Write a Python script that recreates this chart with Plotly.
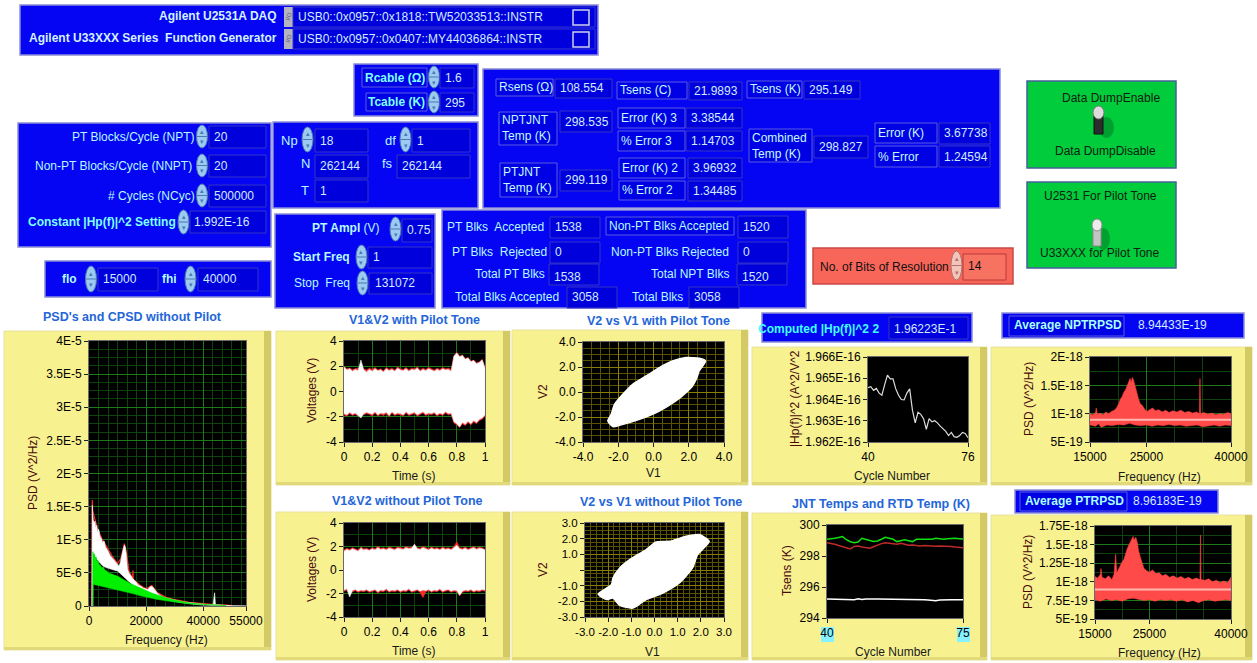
import plotly.graph_objects as go

# ======================= DATA =======================
addr_daq = "USB0::0x0957::0x1818::TW52033513::INSTR"
addr_fg = "USB0::0x0957::0x0407::MY44036864::INSTR"

# PSD's and CPSD without Pilot (V^2/Hz)
psd_v1_hi_f = [1000, 1050, 1150, 1300, 1500, 1800, 2100, 2400, 2700, 3000, 3400, 3800, 4300, 4800, 5300,
               5800, 6300, 6900, 7500, 8100, 8700, 9300, 9900, 10500, 11000, 11500, 12000, 12400, 12700, 13100,
               13500, 14000, 14700, 15400, 16100, 16800, 17500, 18200, 19000, 19800, 20600, 21400, 22000, 22600,
               23200, 24000, 25000, 26000, 27500, 29000, 31000, 33000, 35000, 37000, 39000, 41000, 43500, 44000,
               44300, 46000, 48000, 50000, 55000]
psd_v1_hi = [0, 8.0e-6, 15.2e-6, 14.0e-6, 13.0e-6, 12.6e-6, 12.8e-6, 11.8e-6, 12.2e-6, 11.2e-6, 11.6e-6, 10.6e-6,
             10.2e-6, 9.6e-6, 9.8e-6, 8.9e-6, 8.6e-6, 8.0e-6, 7.6e-6, 7.3e-6, 7.0e-6, 6.6e-6, 6.3e-6, 6.0e-6, 6.6e-6,
             7.9e-6, 8.6e-6, 9.2e-6, 8.9e-6, 7.6e-6, 5.6e-6, 5.0e-6, 4.5e-6, 4.1e-6, 3.8e-6, 3.4e-6, 3.1e-6, 3.0e-6,
             2.7e-6, 2.6e-6, 2.5e-6, 2.9e-6, 3.0e-6, 2.7e-6, 2.3e-6, 1.9e-6, 1.6e-6, 1.35e-6, 1.15e-6, 0.95e-6,
             0.8e-6, 0.62e-6, 0.5e-6, 0.38e-6, 0.3e-6, 0.22e-6, 0.18e-6, 2.0e-6, 0.2e-6, 0.12e-6, 0.08e-6, 0.03e-6, 0]
psd_v1_lo_f = [1000, 1350, 1450, 2000, 3000, 4000, 5000, 6000, 7000, 8000, 9000, 10000, 11000, 12000, 13000,
               14000, 15000, 17000, 19000, 21000, 23000, 25000, 28000, 31000, 34000, 37000, 40000, 44000, 48000, 55000]
psd_v1_lo = [0, 0, 7.8e-6, 7.5e-6, 6.9e-6, 6.4e-6, 6.0e-6, 5.8e-6, 5.6e-6, 5.5e-6, 5.4e-6, 5.3e-6, 5.0e-6, 4.6e-6,
             4.2e-6, 3.7e-6, 3.3e-6, 2.8e-6, 2.3e-6, 1.9e-6, 1.5e-6, 1.2e-6, 0.85e-6, 0.6e-6, 0.4e-6, 0.25e-6,
             0.15e-6, 0.08e-6, 0.03e-6, 0]
psd_v2_f = [1000, 1150, 1300, 2000, 3000, 4500, 6000, 8000, 10000, 11200, 12400, 13200, 14000, 15300, 15400,
            15500, 18000, 20000, 22000, 24000, 27000, 30000, 35000, 40000, 44000, 48000, 50000]
psd_v2 = [0, 16.0e-6, 14.3e-6, 13.2e-6, 11.6e-6, 10.2e-6, 9.0e-6, 7.6e-6, 6.4e-6, 7.2e-6, 9.4e-6, 7.8e-6, 5.3e-6,
          4.1e-6, 5.4e-6, 4.0e-6, 3.1e-6, 2.6e-6, 3.1e-6, 2.0e-6, 1.3e-6, 0.95e-6, 0.55e-6, 0.3e-6, 0.2e-6,
          0.15e-6, 0.05e-6]
cpsd_hi_f = [1300, 1350, 1600, 1900, 2200, 2500, 2800, 3100, 3500, 4000, 4500, 5000, 5600, 6200, 6800, 7500, 8200,
             9000, 9800, 10500, 11300, 12000, 13000, 14000, 15000, 16000, 17000, 18500, 20000, 22000, 24000, 26000,
             28000, 30000, 32000, 34000, 36000, 38000, 40000, 42000, 45000, 48000]
cpsd_hi = [0, 8.2e-6, 7.6e-6, 7.9e-6, 7.2e-6, 7.4e-6, 6.7e-6, 6.9e-6, 6.3e-6, 6.1e-6, 5.8e-6, 5.9e-6, 5.4e-6,
           5.3e-6, 5.0e-6, 4.9e-6, 4.8e-6, 4.7e-6, 4.5e-6, 4.4e-6, 4.2e-6, 4.0e-6, 3.8e-6, 3.5e-6, 3.3e-6, 3.1e-6,
           2.9e-6, 2.6e-6, 2.3e-6, 1.95e-6, 1.65e-6, 1.35e-6, 1.1e-6, 0.9e-6, 0.7e-6, 0.55e-6, 0.42e-6, 0.32e-6,
           0.25e-6, 0.2e-6, 0.15e-6, 0.1e-6]
cpsd_lo_f = [1300, 1350, 2000, 3000, 4000, 5000, 6000, 7000, 8000, 9000, 10000, 11000, 12000, 13000, 14000, 16000,
             18000, 20000, 22000, 24000, 26000, 28000, 30000, 32000, 34000, 36000, 38000, 40000, 42000, 45000, 48000]
cpsd_lo = [0, 3.3e-6, 3.2e-6, 3.1e-6, 3.1e-6, 3.0e-6, 2.9e-6, 2.8e-6, 2.7e-6, 2.6e-6, 2.5e-6, 2.4e-6, 2.3e-6,
           2.15e-6, 2.0e-6, 1.8e-6, 1.55e-6, 1.35e-6, 1.15e-6, 1.0e-6, 0.85e-6, 0.7e-6, 0.58e-6, 0.47e-6,
           0.38e-6, 0.3e-6, 0.22e-6, 0.16e-6, 0.12e-6, 0.08e-6, 0.06e-6]

# V1&V2 time traces (envelopes, V)
time_s = [0.00, 0.02, 0.04, 0.06, 0.08, 0.10, 0.12, 0.14, 0.16, 0.18, 0.20, 0.22, 0.24, 0.26, 0.28, 0.30, 0.32,
          0.34, 0.36, 0.38, 0.40, 0.42, 0.44, 0.46, 0.48, 0.50, 0.52, 0.54, 0.56, 0.58, 0.60, 0.62, 0.64, 0.66,
          0.68, 0.70, 0.72, 0.74, 0.76, 0.78, 0.80, 0.82, 0.84, 0.86, 0.88, 0.90, 0.92, 0.94, 0.96, 0.98, 1.00]
pt_v1_hi = [1.95, 1.70, 1.80, 1.60, 1.75, 1.65, 2.50, 1.70, 1.55, 1.75, 1.60, 1.80, 1.65, 1.70, 1.55, 1.80, 1.65,
            1.75, 1.60, 1.85, 1.70, 1.65, 1.80, 1.60, 1.75, 1.70, 1.85, 1.60, 1.75, 1.65, 1.80, 1.70, 1.60, 1.75,
            1.65, 1.80, 1.70, 1.75, 1.60, 2.80, 3.05, 2.75, 2.85, 2.55, 2.65, 2.35, 2.45, 2.20, 2.30, 2.50, 1.85]
pt_v1_lo = [-1.75, -1.85, -1.65, -1.80, -1.70, -1.90, -2.10, -1.75, -1.65, -1.70, -1.80, -1.60, -1.85, -1.70,
            -1.75, -1.65, -1.90, -1.60, -1.80, -1.70, -1.75, -1.85, -1.60, -1.80, -1.70, -1.65, -1.85, -1.75,
            -1.60, -1.80, -1.70, -1.75, -1.65, -1.85, -1.70, -1.80, -1.60, -1.75, -1.70, -2.40, -2.55, -2.80,
            -2.45, -2.60, -2.35, -2.55, -2.30, -2.45, -2.20, -2.10, -1.85]
pt_v2_hi = [2.00, 1.80, 1.85, 1.75, 1.80, 1.85, 1.90, 1.80, 1.70, 1.85, 1.75, 1.90, 1.70, 1.80, 1.65, 1.90, 1.75,
            1.85, 1.70, 1.95, 1.80, 1.75, 1.90, 1.70, 1.85, 1.80, 1.95, 1.70, 1.85, 1.75, 1.90, 1.80, 1.70, 1.85,
            1.75, 1.90, 1.80, 1.85, 1.75, 2.85, 3.10, 2.80, 2.90, 2.60, 2.70, 2.40, 2.50, 2.25, 2.35, 2.55, 1.90]
pt_v2_lo = [-1.85, -1.95, -1.75, -1.90, -1.80, -1.95, -1.80, -1.85, -1.75, -1.80, -1.95, -1.70, -1.95, -1.80,
            -1.90, -1.75, -2.00, -1.70, -1.90, -1.80, -1.85, -1.95, -1.70, -1.90, -1.80, -1.75, -1.95, -1.85,
            -1.70, -1.90, -1.80, -1.85, -1.75, -1.95, -1.80, -1.90, -1.70, -1.85, -1.80, -2.50, -2.65, -2.85,
            -2.55, -2.70, -2.45, -2.65, -2.40, -2.55, -2.30, -2.20, -1.95]
np_v1_hi = [1.60, 1.75, 1.65, 1.80, 1.70, 1.60, 1.85, 1.70, 1.75, 1.65, 1.80, 1.70, 1.90, 1.75, 1.80, 1.70, 1.85,
            1.75, 1.70, 1.85, 1.80, 1.75, 1.90, 1.80, 1.85, 2.20, 1.80, 1.75, 1.90, 1.80, 1.70, 1.85, 1.75, 1.80,
            1.70, 1.85, 1.75, 1.80, 1.70, 1.90, 2.10, 1.80, 1.75, 1.85, 1.70, 1.80, 1.90, 1.75, 1.85, 1.80, 1.70]
np_v1_lo = [-1.70, -1.60, -2.30, -1.75, -1.65, -1.80, -1.70, -1.75, -1.65, -1.80, -1.70, -1.65, -1.85, -1.70,
            -1.75, -1.60, -1.80, -1.70, -1.75, -1.65, -1.80, -1.70, -1.75, -1.60, -1.80, -1.70, -1.65, -1.80,
            -1.70, -1.75, -1.65, -1.80, -1.70, -1.75, -1.60, -1.80, -1.70, -1.65, -1.80, -1.70, -1.75, -2.15,
            -1.80, -1.70, -1.75, -1.65, -1.80, -1.70, -1.75, -1.65, -1.70]
np_v2_hi = [1.70, 1.85, 1.75, 1.90, 1.80, 1.70, 1.95, 1.80, 1.85, 1.75, 1.90, 1.80, 2.00, 1.85, 1.90, 1.80, 1.95,
            1.85, 1.80, 1.95, 1.90, 1.85, 2.00, 1.90, 1.95, 2.10, 1.90, 1.85, 2.00, 1.90, 1.80, 1.95, 1.85, 1.90,
            1.80, 1.95, 1.85, 1.90, 1.80, 2.00, 2.40, 1.90, 1.85, 1.95, 1.80, 1.90, 2.00, 1.85, 1.95, 1.90, 1.75]
np_v2_lo = [-1.80, -1.70, -2.00, -1.85, -1.75, -1.90, -1.80, -1.85, -1.75, -1.90, -1.80, -1.75, -1.95, -1.80,
            -1.85, -1.70, -1.90, -1.80, -1.85, -1.75, -1.90, -1.80, -1.85, -1.70, -1.90, -1.80, -1.75, -1.90,
            -2.35, -1.85, -1.75, -1.90, -1.80, -1.85, -1.70, -1.90, -1.80, -1.75, -1.90, -1.80, -1.85, -2.20,
            -1.90, -1.80, -1.85, -1.75, -1.90, -1.80, -1.85, -1.75, -1.80]

# V2 vs V1 scatter outlines (V)
xy_pt_v1 = [2.96, 2.60, 1.84, 1.08, 0.33, -0.42, -1.18, -1.74, -2.21, -2.40, -2.59, -2.31, -1.93, -0.80, 0.33,
            1.27, 1.84, 2.21, 2.45, 2.59, 2.96]
xy_pt_v2 = [2.48, 2.70, 2.75, 2.48, 1.95, 1.28, 0.61, -0.19, -0.99, -1.79, -2.32, -2.77, -2.67, -2.19, -1.52,
            -0.72, -0.05, 0.48, 1.10, 1.68, 2.48]
xy_np_v1 = [2.36, 1.93, 1.36, 0.64, 0.07, -0.36, -1.07, -1.50, -1.79, -1.86, -2.43, -2.07, -1.79, -1.50, -0.93,
            -0.36, 0.36, 1.07, 1.64, 1.86, 2.36]
xy_np_v2 = [1.83, 2.26, 2.15, 1.83, 1.79, 1.30, 0.66, 0.13, -0.51, -0.94, -1.53, -1.89, -1.79, -2.26, -2.43,
            -1.89, -1.47, -0.83, 0.13, 0.98, 1.83]

# Computed |Hp(f)|^2 per cycle
hp_cycle = [40, 41, 42, 43, 44, 45, 46, 47, 48, 49, 50, 51, 52, 53, 54, 55, 56, 57, 58, 59, 60, 61, 62, 63, 64,
            65, 66, 67, 68, 69, 70, 71, 72, 73, 74, 75, 76]
hp_value = [1.96456e-16, 1.96460e-16, 1.96443e-16, 1.96452e-16, 1.96430e-16, 1.96420e-16, 1.96470e-16,
            1.96515e-16, 1.96497e-16, 1.96497e-16, 1.96450e-16, 1.96420e-16, 1.96400e-16, 1.96398e-16,
            1.96430e-16, 1.96450e-16, 1.96350e-16, 1.96290e-16, 1.96340e-16, 1.96330e-16, 1.96310e-16,
            1.96260e-16, 1.96310e-16, 1.96295e-16, 1.96300e-16, 1.96290e-16, 1.96275e-16, 1.96262e-16,
            1.96250e-16, 1.96230e-16, 1.96245e-16, 1.96225e-16, 1.96222e-16, 1.96230e-16, 1.96245e-16,
            1.96240e-16, 1.96220e-16]

# JNT temps and RTD temp (K)
jnt_cycle = [40, 41, 42, 43, 44, 45, 46, 47, 48, 49, 50, 51, 52, 53, 54, 55, 56, 57, 58, 59, 60, 61, 62, 63, 64,
             65, 66, 67, 68, 69, 70, 71, 72, 73, 74, 75]
ptjnt_temp = [299.08, 299.10, 299.14, 299.20, 299.25, 299.05, 298.92, 298.86, 298.90, 299.14, 299.05, 299.00,
              298.93, 298.97, 299.08, 299.21, 299.15, 299.08, 298.93, 299.00, 299.04, 298.99, 298.93, 299.08,
              299.08, 299.06, 299.04, 299.08, 299.14, 299.10, 299.08, 299.12, 299.14, 299.14, 299.12, 299.10]
nptjnt_temp = [298.86, 298.82, 298.76, 298.68, 298.61, 298.52, 298.46, 298.62, 298.65, 298.58, 298.52, 298.50,
               298.60, 298.71, 298.80, 298.86, 298.82, 298.76, 298.76, 298.82, 298.75, 298.69, 298.71, 298.68,
               298.65, 298.67, 298.66, 298.61, 298.63, 298.65, 298.65, 298.63, 298.61, 298.58, 298.54, 298.54]
rtd_temp = [295.22, 295.22, 295.21, 295.22, 295.20, 295.21, 295.22, 295.18, 295.24, 295.20, 295.22, 295.24,
            295.22, 295.22, 295.22, 295.21, 295.21, 295.20, 295.18, 295.18, 295.18, 295.18, 295.18, 295.18,
            295.18, 295.18, 295.16, 295.14, 295.11, 295.16, 295.18, 295.18, 295.18, 295.18, 295.18, 295.18]

# Average NPT / PT ratio PSDs (V^2/Hz)
npt_hi_f = [15000, 15500, 16000, 16100, 16300, 16800, 17300, 17800, 18300, 18800, 19300, 19700, 20100, 20400,
            20700, 21000, 21300, 21600, 21900, 22100, 22300, 22500, 22700, 22900, 23100, 23300, 23600, 23900,
            24300, 24700, 25100, 25600, 26100, 26600, 27200, 27800, 28400, 29000, 29700, 30400, 31100, 31800,
            32500, 33200, 33900, 34400, 34500, 34600, 35200, 35900, 36600, 37300, 38000, 38700, 39400, 40000]
npt_hi = [1.00e-18, 0.98e-18, 1.02e-18, 1.10e-18, 0.99e-18, 1.01e-18, 0.98e-18, 1.03e-18, 1.00e-18, 1.04e-18,
          1.06e-18, 1.10e-18, 1.18e-18, 1.26e-18, 1.30e-18, 1.38e-18, 1.42e-18, 1.50e-18, 1.56e-18, 1.62e-18,
          1.55e-18, 1.64e-18, 1.60e-18, 1.52e-18, 1.44e-18, 1.38e-18, 1.26e-18, 1.18e-18, 1.14e-18, 1.08e-18,
          1.04e-18, 1.07e-18, 1.10e-18, 1.05e-18, 1.07e-18, 1.03e-18, 1.06e-18, 1.02e-18, 1.05e-18, 1.03e-18,
          1.06e-18, 1.02e-18, 1.04e-18, 1.01e-18, 1.03e-18, 1.00e-18, 1.62e-18, 1.00e-18, 1.02e-18, 0.99e-18,
          1.01e-18, 0.98e-18, 1.00e-18, 0.99e-18, 1.02e-18, 1.00e-18]
npt_lo_f = [15000, 16000, 16500, 17000, 18000, 19000, 20000, 21000, 22000, 23000, 24000, 25000, 26000, 27000,
            28000, 29000, 30000, 31000, 32000, 33000, 34000, 35000, 36000, 37000, 38000, 39000, 40000]
npt_lo = [0.80e-18, 0.78e-18, 0.82e-18, 0.76e-18, 0.80e-18, 0.79e-18, 0.81e-18, 0.80e-18, 0.83e-18, 0.80e-18,
          0.79e-18, 0.80e-18, 0.78e-18, 0.80e-18, 0.79e-18, 0.81e-18, 0.79e-18, 0.80e-18, 0.78e-18, 0.79e-18,
          0.80e-18, 0.77e-18, 0.79e-18, 0.80e-18, 0.78e-18, 0.80e-18, 0.79e-18]
npt_avg = 8.94433e-19
pt_hi_f = [15000, 15500, 16000, 16100, 16300, 16900, 17500, 18100, 18500, 18800, 19000, 19500, 20000, 20300,
           20600, 20900, 21200, 21500, 21800, 22000, 22200, 22500, 22800, 23000, 23300, 23700, 24000, 24500,
           25000, 25600, 26200, 26800, 27400, 28000, 28700, 29400, 30100, 30800, 31500, 32200, 32900, 33600,
           34300, 34400, 34500, 35200, 35900, 36600, 37300, 38000, 38700, 39400, 40000]
pt_hi = [1.07e-18, 1.05e-18, 1.10e-18, 1.18e-18, 1.06e-18, 1.04e-18, 1.08e-18, 1.03e-18, 1.10e-18, 1.37e-18,
         1.12e-18, 1.20e-18, 1.27e-18, 1.30e-18, 1.38e-18, 1.44e-18, 1.49e-18, 1.54e-18, 1.58e-18, 1.61e-18,
         1.56e-18, 1.60e-18, 1.52e-18, 1.42e-18, 1.34e-18, 1.24e-18, 1.18e-18, 1.15e-18, 1.13e-18, 1.16e-18,
         1.11e-18, 1.12e-18, 1.08e-18, 1.10e-18, 1.06e-18, 1.08e-18, 1.05e-18, 1.07e-18, 1.04e-18, 1.06e-18,
         1.03e-18, 1.05e-18, 1.03e-18, 1.63e-18, 1.03e-18, 1.02e-18, 1.04e-18, 1.00e-18, 1.02e-18, 0.99e-18,
         1.01e-18, 0.99e-18, 1.06e-18]
pt_lo_f = [15000, 16000, 17000, 18000, 19000, 20000, 21000, 22000, 23000, 24000, 25000, 26000, 27000, 28000,
           29000, 30000, 31000, 32000, 33000, 34000, 35000, 36000, 37000, 38000, 39000, 40000]
pt_lo = [0.76e-18, 0.74e-18, 0.77e-18, 0.75e-18, 0.76e-18, 0.74e-18, 0.77e-18, 0.78e-18, 0.76e-18, 0.75e-18,
         0.76e-18, 0.74e-18, 0.76e-18, 0.75e-18, 0.76e-18, 0.74e-18, 0.76e-18, 0.73e-18, 0.75e-18, 0.72e-18,
         0.75e-18, 0.76e-18, 0.74e-18, 0.75e-18, 0.76e-18, 0.75e-18]
pt_avg = 8.96183e-19
hp_computed = "1.96223E-1"

# tick labels
psd_xticks = [0, 20000, 40000, 55000]
psd_xlabels = ["0", "20000", "40000", "55000"]
psd_yticks = [0, 5e-6, 1e-5, 1.5e-5, 2e-5, 2.5e-5, 3e-5, 3.5e-5, 4e-5]
psd_ylabels = ["0", "5E-6", "1E-5", "1.5E-5", "2E-5", "2.5E-5", "3E-5", "3.5E-5", "4E-5"]
t_ticks = [0, 0.2, 0.4, 0.6, 0.8, 1.0]
t_labels = ["0", "0.2", "0.4", "0.6", "0.8", "1"]
v_ticks = [-4, -2, 0, 2, 4]
v_labels = ["-4", "-2", "0", "2", "4"]
xy4_labels = ["-4.0", "-2.0", "0.0", "2.0", "4.0"]
xy3_ticks = [-3, -2, -1, 0, 1, 2, 3]
xy3_xlabels = ["-3.0", "-2.0", "-1.0", "0.0", "1.0", "2.0", "3.0"]
xy3_ylabels = ["-3.0", "-2.0", "-1.0", "", "1.0", "2.0", "3.0"]
hp_yticks = [1.962e-16, 1.963e-16, 1.964e-16, 1.965e-16, 1.966e-16]
hp_ylabels = ["1.962E-16", "1.963E-16", "1.964E-16", "1.965E-16", "1.966E-16"]
jnt_yticks = [294, 296, 298, 300]
rpsd_xticks = [15000, 25000, 40000]
npt_yticks = [5e-19, 1e-18, 1.5e-18, 2e-18]
npt_ylabels = ["5E-19", "1E-18", "1.5E-18", "2E-18"]
pt_yticks = [5e-19, 7.5e-19, 1e-18, 1.25e-18, 1.5e-18, 1.75e-18]
pt_ylabels = ["5E-19", "7.5E-19", "1E-18", "1.25E-18", "1.5E-18", "1.75E-18"]

# ======================= STYLE / HELPERS =======================
W, H = 1257, 663
FONT = "Liberation Sans, Arial, sans-serif"
BLUE = "#0505f4"
BLUE_EDGE = "#8c8cd8"
BOX = "#0000dc"
BOX_EDGE = "#3434c4"
LBL = "#b4faff"
VAL = "#d2ecff"
YEL = "#f7f190"
YEL_DARK = "#d3ca66"
TITLE_C = "#2466d8"
AXT = "#4a0a0a"
GREEN_PANEL = "#00cc3c"
GRID_G = ("#1c7a1c", "#0c440c")
GRID_Y = ("#8a7e00", "#5a5200")


def X(px):
    return px / W


def Y(py):
    return 1 - py / H


shapes, annotations = [], []


def rect(x0, y0, x1, y1, fill, edge=None, lw=1.0, kind="rect"):
    shapes.append(dict(type=kind, xref="paper", yref="paper", x0=X(x0), x1=X(x1), y0=Y(y1), y1=Y(y0),
                       fillcolor=fill, line=dict(color=edge if edge else fill, width=lw if edge else 0),
                       layer="below"))


def hline(x0, x1, y, color, lw=1.0):
    shapes.append(dict(type="line", xref="paper", yref="paper", x0=X(x0), x1=X(x1), y0=Y(y), y1=Y(y),
                       line=dict(color=color, width=lw), layer="below"))


def text(x, y, s, anchor="left", color=LBL, size=12, angle=0):
    annotations.append(dict(xref="paper", yref="paper", x=X(x), y=Y(y), text=s, showarrow=False,
                            xanchor=anchor, yanchor="middle", textangle=angle, align="left",
                            borderpad=0, font=dict(family=FONT, size=size, color=color)))


def spinner(x, y0, y1, fill="#9ccaf0", edge="#4a7ab4"):
    rect(x - 5.5, y0, x + 5.5, y1, fill, edge, 1, kind="circle")
    hline(x - 5, x + 5, (y0 + y1) / 2, edge)
    text(x, y0 + (y1 - y0) * 0.27, "▴", "center", edge, 7)
    text(x, y0 + (y1 - y0) * 0.73, "▾", "center", edge, 7)


def valbox(x0, y0, x1, y1):
    rect(x0, y0, x1, y1, BOX, BOX_EDGE, 1)


def lblbox(x0, y0, x1, y1):
    rect(x0, y0, x1, y1, "#0000e4", "#5a5ae0", 1)


def panel(x0, y0, x1, y1):
    rect(x0, y0, x1, y1, BLUE, BLUE_EDGE, 1.5)


def yellow(x0, y0, x1, y1):
    rect(x0, y0, x1, y1, YEL, "#e8e2a0", 1)
    rect(x1 - 7, y0, x1, y1, YEL_DARK)
    rect(x0, y1 - 3, x1, y1, "#e2da7a")


# ======================= FRONT PANEL CONTROLS =======================
panel(20, 5, 598, 55)
text(278, 16, "<b>Agilent U2531A DAQ</b>", "right", "#d4f2ff", 12)
text(278, 38, "<b>Agilent U33XXX Series\u00a0 Function Generator</b>", "right", "#d4f2ff", 12)
for (ya, yb, yc, addr) in [(7, 27, 17, addr_daq), (29, 49, 39, addr_fg)]:
    rect(284, ya, 293, yb, "#b4b4c0")
    text(288.5, yc, "I/O", "center", "#505070", 6, -70)
    valbox(293, ya, 595, yb)
    text(297, yc, addr, "left", VAL, 12)
    rect(573, ya + 3, 589, yb - 2, BOX, "#d0d0ec", 1.5)

panel(354, 64, 478, 116)
lblbox(362, 68, 427, 87)
text(394.5, 77.5, "<b>Rcable (Ω)</b>", "center", "#7effff", 12)
lblbox(366, 93, 427, 111)
text(396.5, 102, "<b>Tcable (K)</b>", "center", "#7effff", 12)
spinner(434, 66, 88)
spinner(434, 91, 113)
valbox(440, 68, 474, 88)
text(444, 78, "1.6", "left", VAL, 12)
valbox(440, 93, 474, 112)
text(444, 103, "295", "left", VAL, 12)

panel(483, 69, 1000, 208)
items = [
    ((496, 79, 553, 96), "Rsens (Ω)", (555, 79, 612, 98), "108.554"),
    ((617, 82, 687, 99), "Tsens (C)", (689, 82, 742, 100), "21.9893"),
    ((747, 81, 802, 98), "Tsens (K)", (804, 81, 860, 99), "295.149"),
    ((499, 112, 557, 145), "NPTJNT<br>Temp (K)", (560, 111, 612, 132), "298.535"),
    ((618, 108, 685, 128), "Error (K) 3", (686, 108, 742, 128), "3.38544"),
    ((618, 131, 685, 151), "% Error 3", (686, 131, 742, 151), "1.14703"),
    ((500, 163, 557, 197), "PTJNT<br>Temp (K)", (560, 170, 612, 191), "299.119"),
    ((619, 158, 685, 178), "Error (K) 2", (688, 158, 742, 178), "3.96932"),
    ((619, 181, 685, 200), "% Error 2", (688, 181, 742, 201), "1.34485"),
    ((749, 129, 812, 162), "Combined<br>Temp (K)", (814, 136, 868, 158), "298.827"),
    ((875, 123, 937, 143), "Error (K)", (939, 123, 990, 144), "3.67738"),
    ((875, 146, 937, 167), "% Error", (939, 146, 990, 167), "1.24594"),
]
for (lb, lt, vb, vt) in items:
    lblbox(*lb)
    text(lb[0] + 2, (lb[1] + lb[3]) / 2, lt, "left", "#c4fbff", 12)
    valbox(*vb)
    text(vb[0] + 4, (vb[1] + vb[3]) / 2, vt, "left", VAL, 12)

panel(18, 123, 271, 247)
rows = [(137, "PT Blocks/Cycle (NPT)", "20", 195), (166, "Non-PT Blocks/Cycle (NNPT)", "20", 193),
        (196, "# Cycles (NCyc)", "500000", 196)]
for (yy, lt, vt, xr) in rows:
    text(xr, yy, lt, "right", LBL, 12)
    spinner(202, yy - 12, yy + 11)
    valbox(209, yy - 11, 266, yy + 11)
    text(213, yy, vt, "left", VAL, 12)
text(177, 222, "<b>Constant |Hp(f)|^2 Setting</b>", "right", "#7effff", 12)
spinner(183.5, 210, 234)
valbox(190, 211, 266, 233)
text(193, 222, "1.992E-16", "left", VAL, 12)

panel(273, 122, 478, 208)
text(280, 140, "Np", "left", LBL, 13)
spinner(307.5, 127, 152)
valbox(315, 129, 368, 152)
text(319, 141, "18", "left", VAL, 12)
text(384, 140, "df", "left", LBL, 13)
spinner(405.5, 127, 152)
valbox(412, 129, 470, 152)
text(416, 141, "1", "left", VAL, 12)
text(311, 163, "N", "right", LBL, 13)
valbox(315, 155, 368, 178)
text(319, 166, "262144", "left", VAL, 12)
text(381, 163, "fs", "left", LBL, 13)
valbox(397, 155, 470, 178)
text(401, 166, "262144", "left", VAL, 12)
text(310, 190, "T", "right", LBL, 13)
valbox(315, 180, 368, 202)
text(319, 191, "1", "left", VAL, 12)

panel(275, 214, 435, 308)
text(311, 228, "<b>PT Ampl</b> (V)", "left", LBL, 12)
spinner(395.5, 217, 241)
valbox(402, 219, 432, 242)
text(406, 230, "0.75", "left", VAL, 12)
text(292, 257, "<b>Start Freq</b>", "left", LBL, 12)
spinner(361.5, 245, 269)
valbox(368, 247, 432, 268)
text(372, 257, "1", "left", VAL, 12)
text(293, 283, "Stop\u00a0 Freq", "left", LBL, 12)
spinner(362.5, 271, 295)
valbox(369, 273, 432, 294)
text(374, 283, "131072", "left", VAL, 12)

panel(45, 261, 271, 297)
text(61, 279, "<b>flo</b>", "left", LBL, 12)
spinner(91, 266, 292)
valbox(98, 268, 158, 291)
text(102, 279, "15000", "left", VAL, 12)
text(161, 279, "<b>fhi</b>", "left", LBL, 12)
spinner(190.5, 266, 292)
valbox(198, 268, 258, 291)
text(202, 279, "40000", "left", VAL, 12)

panel(442, 210, 806, 308)
counters = [(446, 227, "PT Blks\u00a0 Accepted", 550, "1538", 0), (451, 252, "PT Blks\u00a0 Rejected", 550, "0", 0),
            (474, 274, "Total PT Blks", 549, "1538", 3), (454, 297, "Total Blks Accepted", 567, "3058", 0),
            (610, 252, "Non-PT Blks Rejected", 738, "0", 0), (650, 274, "Total NPT Blks", 737, "1520", 3),
            (631, 297, "Total Blks", 689, "3058", 0)]
for (lx, yy, lt, vx, vt, dy) in counters:
    text(lx, yy, lt, "left", LBL, 12)
    valbox(vx, yy - 10, vx + 50, yy + 11)
    text(vx + 4, yy + dy, vt, "left", VAL, 12)
lblbox(606, 217, 734, 235)
text(608, 226, "Non-PT Blks Accepted", "left", LBL, 12)
valbox(738, 216, 788, 238)
text(742, 227, "1520", "left", VAL, 12)

rect(813, 248, 1013, 284, "#f8665a", "#c84a48", 1.5)
text(819, 267, "No. of Bits of Resolution", "left", "#101010", 12)
spinner(956.5, 251, 280, "#f3c4b8", "#b07070")
rect(963, 254, 1006, 280, "#f87262", "#b83a36", 1)
text(967, 266, "14", "left", "#101010", 12)

rect(1027, 81, 1176, 168, GREEN_PANEL, "#46609a", 1.5)
text(1111, 98, "Data DumpEnable", "center", "#102010", 12)
text(1105, 151, "Data DumpDisable", "center", "#102010", 12)
rect(1099, 117, 1114, 138, "#00a030", kind="circle")
rect(1094, 112, 1103, 134, "#2c2c2c", "#101010", 1)
rect(1093, 106, 1104, 119, "#dcdcdc", "#7a7a7a", 1, kind="circle")

rect(1027, 182, 1176, 268, GREEN_PANEL, "#46609a", 1.5)
text(1100, 196, "U2531 For Pilot Tone", "center", "#102010", 12)
text(1100, 253, "U33XXX for Pilot Tone", "center", "#102010", 12)
rect(1097, 228, 1110, 250, "#00a030", kind="circle")
rect(1093, 225, 1101, 246, "#c4c4c4", "#8a8a8a", 1)
rect(1092, 219, 1102, 231, "#ececec", "#8a8a8a", 1, kind="circle")

rect(762, 313, 972, 342, BLUE, BLUE_EDGE, 1.5)
valbox(889, 317, 968, 339)
text(757, 329, "<b>Computed |Hp(f)|^2 2</b>", "left", "#40ffff", 12)
text(893, 329, hp_computed, "left", VAL, 12)

rect(1002, 313, 1244, 338, BLUE, BLUE_EDGE, 1.5)
lblbox(1009, 316, 1124, 336)
text(1013, 325, "<b>Average NPTRPSD</b>", "left", "#a8ffff", 12)
text(1137, 325, f"{npt_avg:.5E}", "left", VAL, 12)

rect(1015, 490, 1218, 513, BLUE, BLUE_EDGE, 1.5)
lblbox(1020, 492, 1127, 511)
text(1024, 501, "<b>Average PTRPSD</b>", "left", "#a8ffff", 12)
text(1132, 501, f"{pt_avg:.5E}", "left", VAL, 12)

# ======================= GRAPH PANELS =======================
yellow(4, 331, 271, 650)
yellow(276, 331, 510, 485)
yellow(512, 330, 748, 485)
yellow(752, 347, 987, 485)
yellow(991, 347, 1252, 485)
yellow(276, 512, 510, 660)
yellow(512, 512, 748, 660)
yellow(752, 513, 987, 660)
yellow(991, 515, 1252, 660)
rect(821, 627, 834, 642, "#86f2ff")
rect(957, 627, 970, 642, "#86f2ff")

titles = [(132, 317, "PSD's and CPSD without Pilot"), (414, 320, "V1&V2 with Pilot Tone"),
          (658, 321, "V2 vs V1 with Pilot Tone"), (407, 501, "V1&V2 without Pilot Tone"),
          (661, 502, "V2 vs V1 without Pilot Tone"), (881, 504, "JNT Temps and RTD Temp (K)")]
for (tx, ty, tt) in titles:
    text(tx, ty, f"<b>{tt}</b>", "center", TITLE_C, 12.5)

axis_titles = [
    (33, 473, "PSD (V^2/Hz)", -90), (166, 640, "Frequency (Hz)", 0),
    (312, 391, "Voltages (V)", -90), (414, 476, "Time (s)", 0),
    (312, 570, "Voltages (V)", -90), (414, 651, "Time (s)", 0),
    (543, 392, "V2", -90), (653, 473, "V1", 0),
    (543, 570, "V2", -90), (652, 652, "V1", 0),
    (795, 399, "|Hp(f)|^2 (A^2/V^2", -90), (892, 476, "Cycle Number", 0),
    (787, 571, "Tsens (K)", -90), (893, 652, "Cycle Number", 0),
    (1029, 399, "PSD (V^2/Hz)", -90), (1159, 477, "Frequency (Hz)", 0),
    (1028, 572, "PSD (V^2/Hz)", -90), (1159, 653, "Frequency (Hz)", 0),
]
for (ax_, ay_, at_, ang) in axis_titles:
    text(ax_, ay_, at_, "center", AXT if ang else "#1a1a1a", 12, ang)

# ======================= AXES =======================
layout_axes = {}


def add_axes(i, pxx, pxy, xr, yr, xtv, xtt, ytv, ytt, grid=None, xminor=None, yminor=None, fs=12):
    xa = "xaxis" if i == 1 else f"xaxis{i}"
    ya = "yaxis" if i == 1 else f"yaxis{i}"
    xs = "x" if i == 1 else f"x{i}"
    ys = "y" if i == 1 else f"y{i}"
    rect(pxx[0], pxy[0], pxx[1], pxy[1], "#000000")  # black plot area
    common = dict(showline=True, mirror=True, linecolor="#6a6a6a", linewidth=1, zeroline=False,
                  ticks="outside", ticklen=4, tickcolor="#202020", tickwidth=1, tickangle=0,
                  automargin=False, tickfont=dict(family=FONT, size=fs, color="black"),
                  fixedrange=True, tickmode="array", layer="above traces")
    xd = dict(domain=[X(pxx[0]), X(pxx[1])], range=xr, anchor=ys, tickvals=xtv, ticktext=xtt, **common)
    yd = dict(domain=[Y(pxy[1]), Y(pxy[0])], range=yr, anchor=xs, tickvals=ytv, ticktext=ytt, **common)
    for d, mn in ((xd, xminor), (yd, yminor)):
        if grid:
            d.update(showgrid=True, gridcolor=grid[0], gridwidth=1)
            if mn:
                d["minor"] = dict(tickmode="linear", tick0=mn[0], dtick=mn[1], showgrid=True,
                                  gridcolor=grid[1], gridwidth=1, ticks="")
        else:
            d.update(showgrid=False)
    layout_axes[xa] = xd
    layout_axes[ya] = yd
    return xs, ys


a1 = add_axes(1, (89, 246), (341, 606), [0, 55000], [0, 4e-5], psd_xticks, psd_xlabels, psd_yticks,
              psd_ylabels, GRID_G, (0, 10000 / 3), (0, 1.25e-6))
a2 = add_axes(2, (344, 485), (341, 442), [0, 1], [-4, 4], t_ticks, t_labels, v_ticks, v_labels,
              GRID_G, (0, 0.1), (0, 1))
a3 = add_axes(3, (583, 724), (342, 442), [-4, 4], [-4, 4], v_ticks, xy4_labels, v_ticks, xy4_labels,
              GRID_Y, (0, 0.5), (0, 0.5))
a4 = add_axes(4, (868, 968), (357, 442), [40, 76], [1.962e-16, 1.966e-16], [40, 76], ["40", "76"],
              hp_yticks, hp_ylabels)
a5 = add_axes(5, (1090, 1231), (357, 442), [15000, 40000], [5e-19, 2e-18], rpsd_xticks,
              [str(v) for v in rpsd_xticks], npt_yticks, npt_ylabels, GRID_G, (15000, 5000), (0, 2.5e-19))
a6 = add_axes(6, (344, 485), (523, 617), [0, 1], [-4, 4], t_ticks, t_labels, v_ticks, v_labels,
              GRID_G, (0, 0.1), (0, 1))
a7 = add_axes(7, (585, 724), (523, 617), [-3, 3], [-3, 3], xy3_ticks, xy3_xlabels, xy3_ticks, xy3_ylabels,
              GRID_Y, (0, 0.25), (0, 0.25), fs=11.5)
a8 = add_axes(8, (827, 963), (525, 618), [40, 75], [294, 300], [40, 75], ["40", "75"], jnt_yticks,
              [str(v) for v in jnt_yticks])
a9 = add_axes(9, (1095, 1231), (526, 619), [15000, 40000], [5e-19, 1.75e-18], rpsd_xticks,
              [str(v) for v in rpsd_xticks], pt_yticks, pt_ylabels, GRID_G, (15000, 5000), (0, 1.25e-19))

# ======================= TRACES =======================
traces = []


def band(ax, xhi, yhi, xlo, ylo, color, edge=None):
    traces.append(go.Scatter(x=list(xhi) + list(xlo)[::-1], y=list(yhi) + list(ylo)[::-1], xaxis=ax[0],
                             yaxis=ax[1], mode="lines", fill="toself", fillcolor=color,
                             line=dict(color=edge if edge else color, width=0.6), hoverinfo="skip"))


def line(ax, x, y, color, width=1.0):
    traces.append(go.Scatter(x=x, y=y, xaxis=ax[0], yaxis=ax[1], mode="lines",
                             line=dict(color=color, width=width), hoverinfo="skip"))


line(a1, psd_v2_f, psd_v2, "#ff2828", 1.2)
band(a1, psd_v1_hi_f, psd_v1_hi, psd_v1_lo_f, psd_v1_lo, "#ffffff")
band(a1, cpsd_hi_f, cpsd_hi, cpsd_lo_f, cpsd_lo, "#00f000", "#00e000")

band(a2, time_s, pt_v2_hi, time_s, pt_v2_lo, "#ff2a2a")
band(a2, time_s, pt_v1_hi, time_s, pt_v1_lo, "#ffffff", "#e8e8e8")
band(a6, time_s, np_v2_hi, time_s, np_v2_lo, "#ff2a2a")
band(a6, time_s, np_v1_hi, time_s, np_v1_lo, "#ffffff", "#e8e8e8")

traces.append(go.Scatter(x=xy_pt_v1, y=xy_pt_v2, xaxis=a3[0], yaxis=a3[1], mode="lines", fill="toself",
                         fillcolor="white", line=dict(color="white", width=1.5, shape="spline", smoothing=0.6),
                         hoverinfo="skip"))
traces.append(go.Scatter(x=xy_np_v1, y=xy_np_v2, xaxis=a7[0], yaxis=a7[1], mode="lines", fill="toself",
                         fillcolor="white", line=dict(color="white", width=1.5, shape="spline", smoothing=0.6),
                         hoverinfo="skip"))

line(a4, hp_cycle, hp_value, "#dcdcdc", 1.2)

line(a8, jnt_cycle, ptjnt_temp, "#10e010", 1.5)
line(a8, jnt_cycle, nptjnt_temp, "#c02a2a", 1.5)
line(a8, jnt_cycle, rtd_temp, "#ffffff", 1.5)

band(a5, npt_hi_f, npt_hi, npt_lo_f, npt_lo, "#ff4a4a", "#ff3a3a")
line(a5, [15000, 40000], [npt_avg, npt_avg], "#ffb8b0", 2)
band(a9, pt_hi_f, pt_hi, pt_lo_f, pt_lo, "#ff4a4a", "#ff3a3a")
line(a9, [15000, 40000], [pt_avg, pt_avg], "#ffb8b0", 2)

fig = go.Figure(data=traces)
fig.update_layout(width=W, height=H, autosize=False,
                  margin=dict(l=0, r=0, t=0, b=0, pad=0, autoexpand=False),
                  paper_bgcolor="white", plot_bgcolor="black", showlegend=False,
                  font=dict(family=FONT, size=12, color="black"),
                  shapes=shapes, annotations=annotations, **layout_axes)
fig.write_html("out.html", config={"displayModeBar": False},
               post_script="document.body.style.margin='0';document.body.style.overflow='hidden';")
